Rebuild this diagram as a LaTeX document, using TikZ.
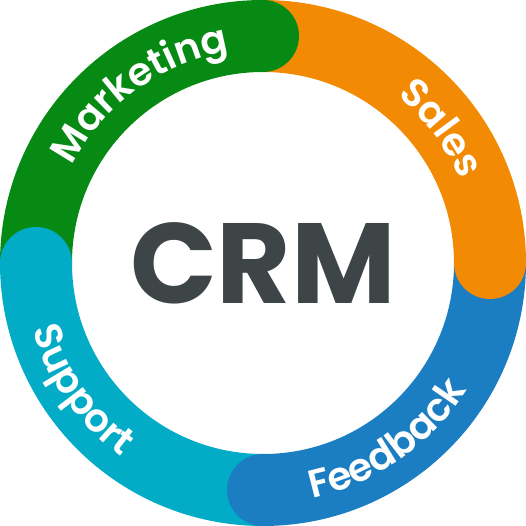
\documentclass[tikz,border=0pt]{standalone}
\usepackage{fontspec}
\usetikzlibrary{decorations.text}
\newfontfamily\crmfont{Poppins}[UprightFont=* Bold]
\newfontfamily\labelfont{Poppins}[UprightFont=* SemiBold]
\definecolor{mktgreen}{HTML}{068A13}
\definecolor{salesorange}{HTML}{F38A04}
\definecolor{feedblue}{HTML}{1C7EC2}
\definecolor{supportteal}{HTML}{02ACC7}
\definecolor{crmgray}{HTML}{3D4547}
\tikzset{
  band/.style={line width=72pt},
  bandlabel/.style={decorate,decoration={text along path,text align=center,
    text={|\labelfont\fontsize{39}{42}\selectfont\color{white}|#1}}},
}

\begin{document}
\begin{tikzpicture}[x=1pt,y=1pt]
\useasboundingbox (-263,-263) rectangle (263,263);
\draw[band,mktgreen] (180:227) arc[start angle=180,end angle=90,radius=227];
\draw[band,salesorange] (90:227) arc[start angle=90,end angle=0,radius=227];
\draw[band,feedblue] (0:227) arc[start angle=0,end angle=-90,radius=227];
\draw[band,supportteal] (270:227) arc[start angle=270,end angle=180,radius=227];
\fill[mktgreen] (90:227) circle (36);
\fill[salesorange] (0:227) circle (36);
\fill[feedblue] (270:227) circle (36);
\fill[supportteal] (180:227) circle (36);
\path[bandlabel=Marketing] (171:214) arc[start angle=171,end angle=81,radius=214];
\path[bandlabel=Sales] (82:214) arc[start angle=82,end angle=-8,radius=214];
\path[bandlabel=Feedback] (260:240) arc[start angle=260,end angle=350,radius=240];
\path[bandlabel=Support] (170:240) arc[start angle=170,end angle=260,radius=240];
\node[font=\crmfont\fontsize{114}{120}\selectfont,text=crmgray] (crm) at (0,0) {CRM};
\end{tikzpicture}
\end{document}
